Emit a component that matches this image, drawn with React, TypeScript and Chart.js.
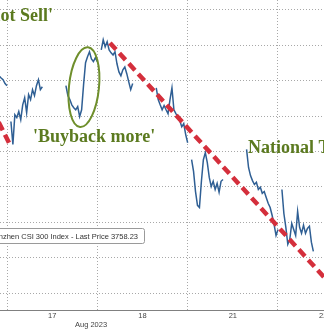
import { useEffect, useRef } from 'react';
import { Chart, registerables } from 'chart.js';

Chart.register(...registerables);

// x value = trading-day index (0 = Aug 17) + fraction of the 09:15-15:00 day (345 min)
const dayLabels = ['17', '18', '21', '22'];
const dayCentres = [0.5, 1.5, 2.5, 3.5];
const dayBoundaries = [0, 1, 2, 3];
const monthLabel = 'Aug 2023';
const monthLabelAt = 0.93;
const legendText = 'Shanghai Shenzhen CSI 300 Index - Last Price 3758.23';

// intraday prices, one value every 7.5 minutes of each session
const aug16Afternoon = [3815.9, 3815.4, 3816.5, 3814.8, 3814.2, 3815.1, 3813.7, 3813.1, 3813.9, 3812.5, 3812.0, 3812.3, 3811.4, 3810.8, 3810.3, 3809.2, 3808.6];
const aug17Morning = [3798.5, 3792.0, 3800.4, 3799.6, 3801.3, 3799.0, 3803.2, 3805.2, 3801.0, 3806.1, 3804.7, 3807.5, 3805.8, 3808.6, 3810.3, 3807.5, 3808.3];
const aug17Afternoon = [3808.6, 3805.8, 3804.7, 3803.2, 3802.4, 3801.8, 3802.7, 3799.9, 3801.8, 3808.9, 3815.1, 3816.8, 3818.2, 3816.2, 3815.4, 3816.5, 3815.4];
const aug18Morning = [3818.7, 3821.6, 3819.6, 3821.0, 3818.7, 3817.9, 3817.3, 3818.2, 3814.8, 3812.5, 3811.4, 3813.1, 3813.9, 3812.0, 3809.7, 3807.5, 3809.2];
const aug18Afternoon = [3808.0, 3804.7, 3803.2, 3801.8, 3803.0, 3801.8, 3800.7, 3804.7, 3808.0, 3801.8, 3800.7, 3799.9, 3798.7, 3797.0, 3797.9, 3794.8, 3792.5];
const aug21Morning = [3787.7, 3784.4, 3778.7, 3774.8, 3774.2, 3781.6, 3787.7, 3789.7, 3786.9, 3782.7, 3780.1, 3781.6, 3779.3, 3781.0, 3778.5, 3781.6, 3782.1];
const aug21Afternoon = [3790.6, 3785.5, 3783.2, 3781.8, 3780.7, 3781.3, 3779.3, 3779.9, 3778.2, 3778.7, 3777.0, 3775.4, 3774.2, 3772.0, 3769.4, 3766.3, 3768.0];
const aug22Morning = [3779.3, 3772.5, 3768.6, 3763.8, 3765.2, 3769.7, 3768.0, 3766.3, 3773.1, 3768.6, 3766.9, 3769.2, 3766.9, 3768.3, 3768.9, 3764.4, 3761.8];

const DAY_MINUTES = 345;
const MORNING = [15, 135];
const AFTERNOON = [225, 345];

const sessions = [
  { day: -1, span: AFTERNOON, values: aug16Afternoon },
  { day: 0, span: MORNING, values: aug17Morning },
  { day: 0, span: AFTERNOON, values: aug17Afternoon },
  { day: 1, span: MORNING, values: aug18Morning },
  { day: 1, span: AFTERNOON, values: aug18Afternoon },
  { day: 2, span: MORNING, values: aug21Morning },
  { day: 2, span: AFTERNOON, values: aug21Afternoon },
  { day: 3, span: MORNING, values: aug22Morning },
];

const priceGrid = [3750, 3760, 3770, 3780, 3790, 3800, 3810, 3820, 3830];
const xRange = [-0.0775, 3.5093];
const yRange = [3745.21, 3832.82];

// dashed trend lines [day, price]
const trendMain = [[1.14, 3820.7], [3.686, 3749.6]];
const trendLeft = [[0.022, 3792.5], [-0.354, 3811.7]];

const notes = [
  { text: "'Do not Sell'", x: 0.509, y: 3826.9, align: 'right' },
  { text: "'Buyback more'", x: 0.288, y: 3792.8, align: 'left' },
  { text: 'National Team', x: 2.668, y: 3789.7, align: 'left' },
];
const ring = { x: 0.852, y: 3808.2, rx: 0.166, ry: 11.3 };

function buildSeries() {
  const pts: { x: number; y: number | null }[] = [];
  sessions.forEach((s) => {
    const [a, b] = s.span;
    const n = s.values.length;
    s.values.forEach((v, i) => {
      pts.push({ x: s.day + (a + ((b - a) * i) / (n - 1)) / DAY_MINUTES, y: v });
    });
    pts.push({ x: s.day + (b + 2) / DAY_MINUTES, y: null });
  });
  return pts;
}

const decorations = {
  id: 'decorations',
  afterDatasetsDraw(chart: any) {
    const { ctx, scales } = chart;
    const xs = scales.x;
    const ys = scales.y;
    ctx.save();
    const cx = xs.getPixelForValue(ring.x);
    const cy = ys.getPixelForValue(ring.y);
    const rx = Math.abs(xs.getPixelForValue(ring.x + ring.rx) - cx);
    const ry = Math.abs(ys.getPixelForValue(ring.y + ring.ry) - cy);
    ctx.beginPath();
    ctx.ellipse(cx, cy, rx, ry, 0.1, 0, Math.PI * 2);
    ctx.strokeStyle = '#6f8f2c';
    ctx.lineWidth = 2;
    ctx.stroke();

    ctx.font = "bold 18px 'Liberation Serif'";
    ctx.fillStyle = '#5b7a1f';
    ctx.textBaseline = 'alphabetic';
    notes.forEach((n) => {
      ctx.textAlign = n.align;
      ctx.fillText(n.text, xs.getPixelForValue(n.x), ys.getPixelForValue(n.y));
    });
    ctx.restore();
  },
  afterDraw(chart: any) {
    const { ctx, chartArea, scales } = chart;
    ctx.save();
    // legend box
    ctx.font = "7.5px 'Liberation Sans'";
    const tw = ctx.measureText(legendText).width;
    const right = chartArea.left + 144;
    const top = chartArea.top + 228;
    const h = 15;
    const left = right - tw - 40;
    ctx.beginPath();
    ctx.roundRect(left + 0.5, top + 0.5, right - left, h, 2);
    ctx.fillStyle = '#ffffff';
    ctx.fill();
    ctx.strokeStyle = '#9a9a9a';
    ctx.lineWidth = 1;
    ctx.stroke();
    ctx.fillStyle = '#333333';
    ctx.textAlign = 'right';
    ctx.textBaseline = 'middle';
    ctx.fillText(legendText, right - 6, top + h / 2 + 1);

    // month label
    ctx.fillStyle = '#444444';
    ctx.textAlign = 'center';
    ctx.fillText(monthLabel, scales.x.getPixelForValue(monthLabelAt), chartArea.bottom + 15);
    ctx.restore();
  },
};

export default function App() {
  const ref = useRef<HTMLCanvasElement>(null);
  useEffect(() => {
    if (!ref.current) return;
    const tickOrder: number[] = [];
    dayCentres.forEach((c, i) => {
      tickOrder.push(c);
      tickOrder.push(dayBoundaries[i]);
    });
    const chart = new Chart(ref.current, {
      type: 'line',
      data: {
        datasets: [
          {
            label: 'trend',
            data: trendMain.map(([x, y]) => ({ x, y })),
            borderColor: '#d42f3c',
            borderWidth: 4.5,
            borderDash: [9, 5],
            borderCapStyle: 'butt',
            pointRadius: 0,
            order: 0,
          },
          {
            label: 'trend2',
            data: trendLeft.map(([x, y]) => ({ x, y })),
            borderColor: '#d42f3c',
            borderWidth: 4.5,
            borderDash: [9, 5],
            borderCapStyle: 'butt',
            pointRadius: 0,
            order: 0,
          },
          {
            label: legendText,
            data: buildSeries(),
            borderColor: '#2f5f94',
            borderWidth: 1.5,
            pointRadius: 0,
            tension: 0,
            spanGaps: false,
            order: 1,
          },
        ],
      },
      options: {
        responsive: false,
        animation: false,
        events: [],
        layout: { padding: { left: 0, right: 0, top: 0, bottom: 7.9 } },
        plugins: { legend: { display: false }, tooltip: { enabled: false } },
        scales: {
          x: {
            type: 'linear',
            min: xRange[0],
            max: xRange[1],
            afterBuildTicks: (scale: any) => {
              scale.ticks = tickOrder.map((v) => ({ value: v }));
            },
            ticks: {
              autoSkip: false,
              maxRotation: 0,
              padding: 1.5,
              color: '#444444',
              font: { family: "'Liberation Sans'", size: 7.5 },
              callback: (v: any) => {
                const i = dayCentres.indexOf(Number(v));
                return i >= 0 ? dayLabels[i] : '';
              },
            },
            grid: {
              drawTicks: false,
              color: (c: any) => (c.tick && dayBoundaries.includes(c.tick.value) ? '#a8a8a8' : 'rgba(0,0,0,0)'),
              lineWidth: 1,
            },
            border: { display: true, color: '#808080', width: 1, dash: [1, 2] },
          },
          y: {
            position: 'right',
            min: yRange[0],
            max: yRange[1],
            afterBuildTicks: (scale: any) => {
              scale.ticks = priceGrid.map((v) => ({ value: v }));
            },
            ticks: { display: false },
            grid: { drawTicks: false, color: '#a8a8a8', lineWidth: 1 },
            border: { display: false, dash: [1, 2] },
          },
        },
      },
      plugins: [decorations],
    });
    return () => chart.destroy();
  }, []);
  return (
    <div style={{ position: 'fixed', left: 0, top: 0, width: 324, height: 330, overflow: 'hidden', background: '#fff' }}>
      <canvas ref={ref} width={324} height={330} style={{ display: 'block', width: 324, height: 330 }} />
    </div>
  );
}
